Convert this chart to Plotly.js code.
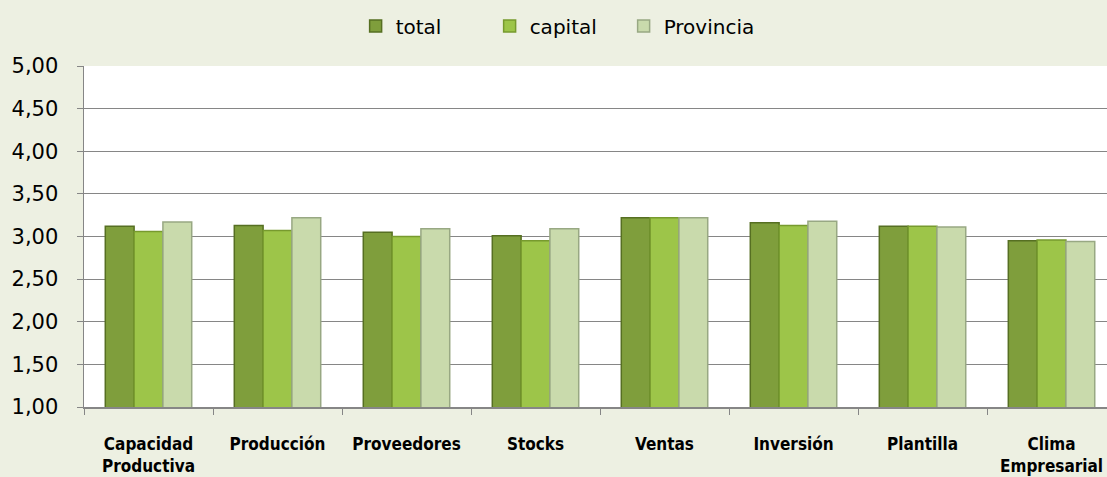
<!DOCTYPE html>
<html>
<head>
<meta charset="utf-8">
<script src="https://cdn.plot.ly/plotly-3.0.1.min.js"></script>
<style>html,body{margin:0;padding:0;background:#EDF0E2;}#chart{width:1107px;height:477px;}</style>
</head>
<body>
<div id="chart"></div>
<script>
const categories = ["Capacidad<br>Productiva", "Producción", "Proveedores", "Stocks", "Ventas", "Inversión", "Plantilla", "Clima<br>Empresarial"];
const totalValues = [3.12, 3.13, 3.05, 3.01, 3.22, 3.16, 3.12, 2.95];
const capitalValues = [3.06, 3.07, 3.00, 2.95, 3.22, 3.13, 3.12, 2.96];
const provinciaValues = [3.17, 3.22, 3.09, 3.09, 3.22, 3.18, 3.11, 2.94];
const yTicks = [1.0, 1.5, 2.0, 2.5, 3.0, 3.5, 4.0, 4.5, 5.0];

function series(name, vals, fill, edge) {
  return {
    type: 'bar', name: name, x: categories, y: vals,
    marker: {color: fill, line: {color: edge, width: 1.5}},
    hoverinfo: 'skip'
  };
}
const data = [
  series('total', totalValues, '#7F9E3C', '#566F22'),
  series('capital', capitalValues, '#9DC549', '#779A2E'),
  series('Provincia', provinciaValues, '#C9DAAC', '#98A883')
];
const layout = {
  width: 1107, height: 477,
  paper_bgcolor: '#EDF0E2', plot_bgcolor: '#FFFFFF',
  margin: {l: 84, r: 0, t: 66, b: 70},
  barmode: 'group', bargap: 0.33, bargroupgap: 0,
  separators: ',.',
  font: {family: 'DejaVu Sans, Verdana, sans-serif', color: '#000000'},
  showlegend: true,
  legend: {orientation: 'h', x: 0.462, xanchor: 'center', y: 1.117, yanchor: 'middle',
           entrywidth: 89, entrywidthmode: 'pixels',
           font: {size: 20, family: 'DejaVu Sans, Verdana, sans-serif'}, bgcolor: 'rgba(0,0,0,0)'},
  xaxis: {
    type: 'category', range: [-0.5, 7.43],
    showline: true, linecolor: '#868686', linewidth: 1.5,
    ticks: 'outside', tickson: 'boundaries', ticklen: 6, tickcolor: '#868686',
    ticklabelstandoff: 21,
    tickfont: {size: 17, family: 'DejaVu Sans Condensed, DejaVu Sans, sans-serif', weight: 'bold'},
    showgrid: false, fixedrange: true
  },
  yaxis: {
    range: [1, 5], tickvals: yTicks, tickformat: '.2f',
    showline: true, linecolor: '#868686', linewidth: 1.5,
    ticks: 'outside', ticklen: 6, tickcolor: '#868686',
    ticklabelstandoff: 14,
    gridcolor: '#868686', gridwidth: 1.2,
    tickfont: {size: 21, family: 'DejaVu Sans, Verdana, sans-serif'},
    zeroline: false, fixedrange: true
  }
};
Plotly.newPlot('chart', data, layout, {displayModeBar: false, staticPlot: true});
</script>
</body>
</html>
